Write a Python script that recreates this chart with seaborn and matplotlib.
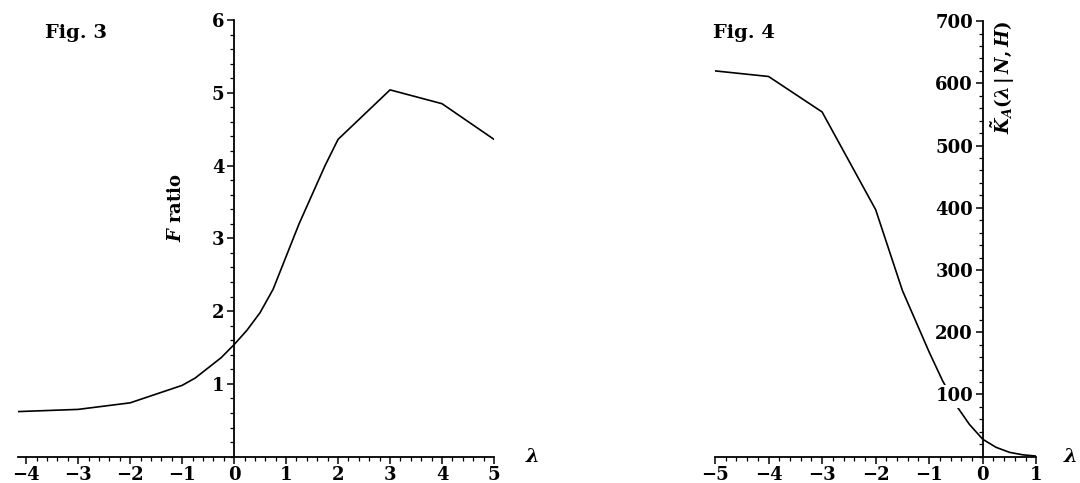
import matplotlib

matplotlib.use("Agg")
import matplotlib.pyplot as plt  # noqa: E402
import seaborn as sns  # noqa: E402
from matplotlib.ticker import MultipleLocator  # noqa: E402

# --- data ------------------------------------------------------------------
lam3 = [-4.15, -3, -2, -1, -0.75, -0.5, -0.25, 0, 0.25, 0.5, 0.75, 1,
        1.25, 1.5, 1.75, 2, 3, 4, 5]
f_ratio = [0.62, 0.65, 0.74, 0.98, 1.08, 1.22, 1.36, 1.54, 1.74, 1.98, 2.3,
           2.75, 3.2, 3.6, 4.0, 4.36, 5.04, 4.85, 4.36]

lam4 = [-5, -4, -3, -2, -1.5, -1, -0.75, -0.5, -0.25, 0, 0.25, 0.5, 0.75, 1]
k_tilde = [620, 611, 554, 397, 267, 168, 122, 83, 52, 28, 15, 7, 3, 1]

xticks3 = [-4, -3, -2, -1, 0, 1, 2, 3, 4, 5]
yticks3 = [1, 2, 3, 4, 5, 6]
xticks4 = [-5, -4, -3, -2, -1, 0, 1]
yticks4 = [100, 200, 300, 400, 500, 600, 700]

sns.set_style("ticks")
plt.rcParams["font.family"] = ["DejaVu Serif"]
plt.rcParams["font.weight"] = "bold"
plt.rcParams["mathtext.fontset"] = "dejavuserif"
plt.rcParams["axes.unicode_minus"] = True
for k in ("text.color", "axes.labelcolor", "xtick.color", "ytick.color",
          "axes.edgecolor"):
    plt.rcParams[k] = "black"

W, H = 1080, 483
fig = plt.figure(figsize=(W / 100, H / 100), dpi=100)


def _frame(ax, xlim, ylim, xticks, yticks, xminor, yminor):
    ax.set_xlim(*xlim)
    ax.set_ylim(*ylim)
    for s in ("top", "right"):
        ax.spines[s].set_visible(False)
    ax.spines["left"].set_position(("data", 0))
    for s in ("left", "bottom"):
        ax.spines[s].set_linewidth(1.3)
        ax.spines[s].set_color("black")
    ax.set_xticks(xticks)
    ax.set_yticks(yticks)
    ax.xaxis.set_minor_locator(MultipleLocator(xminor))
    ax.yaxis.set_minor_locator(MultipleLocator(yminor))
    ax.tick_params(which="major", direction="out", length=5, width=1.1,
                   color="black", labelcolor="black", labelsize=13, pad=2)
    ax.tick_params(which="minor", direction="out", length=3, width=0.9,
                   color="black")
    for t in ax.get_xticklabels() + ax.get_yticklabels():
        t.set_fontweight("bold")
    ax.set_xlabel("")
    ax.set_ylabel("")
    ax.set_facecolor("none")


# --- Fig. 3 -----------------------------------------------------------------
ax1 = fig.add_axes([18.4 / W, 26.3 / H, 475.6 / W, 436.7 / H])
sns.lineplot(x=lam3, y=f_ratio, ax=ax1, color="black", lw=1.2, sort=False,
             errorbar=None)
_frame(ax1, (-4.15, 5), (0, 6), xticks3, yticks3, 0.2, 0.2)
ax1.text(-1.11, 3.43, r"$\mathbfit{F}$ ratio", rotation=90, ha="center",
         va="center", fontsize=13, fontweight="bold")
ax1.text(5.6, 0, r"$\lambda$", ha="left", va="center", fontsize=14)
fig.text(45 / W, 1 - 33 / H, "Fig. 3", fontsize=14, fontweight="bold",
         va="center", ha="left")

# --- Fig. 4 -----------------------------------------------------------------
ax2 = fig.add_axes([715 / W, 26.3 / H, 321.3 / W, 435.6 / H])
sns.lineplot(x=lam4, y=k_tilde, ax=ax2, color="black", lw=1.2, sort=False,
             errorbar=None)
_frame(ax2, (-5, 1), (0, 700), xticks4, yticks4, 0.2, 20)
ax2.set_axisbelow(False)
for t in ax2.get_yticklabels():
    t.set_bbox(dict(facecolor="white", edgecolor="none", pad=1.5))
ax2.text(0.37, 700, r"$\tilde{\mathbfit{K}}_{\mathbfit{A}}(\lambda\,|\,\mathbfit{N},\mathbfit{H})$",
         rotation=90, ha="center", va="top", fontsize=13)
ax2.text(1.5, 0, r"$\lambda$", ha="left", va="center", fontsize=14)
fig.text(713 / W, 1 - 33 / H, "Fig. 4", fontsize=14, fontweight="bold",
         va="center", ha="left")

fig.savefig("out.png", dpi=100)
